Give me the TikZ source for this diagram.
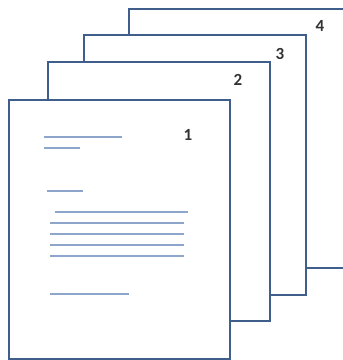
\documentclass[tikz,border=0pt]{standalone}
\usepackage{fontspec}
\setmainfont{Carlito}
\usetikzlibrary{positioning}

\definecolor{edgeblue}{HTML}{3F5E8C}
\definecolor{textblue}{HTML}{8EA6CC}

\tikzset{
  sheet/.style={draw=edgeblue, line width=2.4pt, fill=white, anchor=north west,
    inner sep=0pt, minimum width=#1},
  sheet/.default=221pt,
  txtline/.style={draw=textblue, line width=1.4pt},
  num/.style={font=\fontsize{17}{17}\selectfont\bfseries, text=black!80}
}

\begin{document}
\begin{tikzpicture}[x=1pt, y=-1pt]
  \useasboundingbox (0,0) rectangle (343,360);
  \clip (0,0) rectangle (343,360);
  % stack of pages, back to front
  \node[sheet=240pt, minimum height=259pt] (page4) at (128,8) {};
  \node[sheet=222pt, minimum height=260pt] (page3) at (83,34) {};
  \node[sheet=222pt, minimum height=259pt] (page2) at (47,61) {};
  \node[sheet=221pt, minimum height=259pt] (page1) at (8,99) {};
  % page numbers
  \node[num] (n4) at (320,26) {4};
  \node[num] (n3) at (280,54) {3};
  \node[num] (n2) at (238,80) {2};
  \node[num] (n1) at (188,135) {1};
  % text on the front page
  \draw[txtline] (44,137) -- (122,137);
  \draw[txtline] (44,148) -- (80,148);
  \draw[txtline] (47,191) -- (83,191);
  \draw[txtline] (55,212) -- (188,212);
  \foreach \y in {223,234,245,256}
    \draw[txtline] (50,\y) -- (184,\y);
  \draw[txtline] (50,294) -- (129,294);
\end{tikzpicture}
\end{document}
